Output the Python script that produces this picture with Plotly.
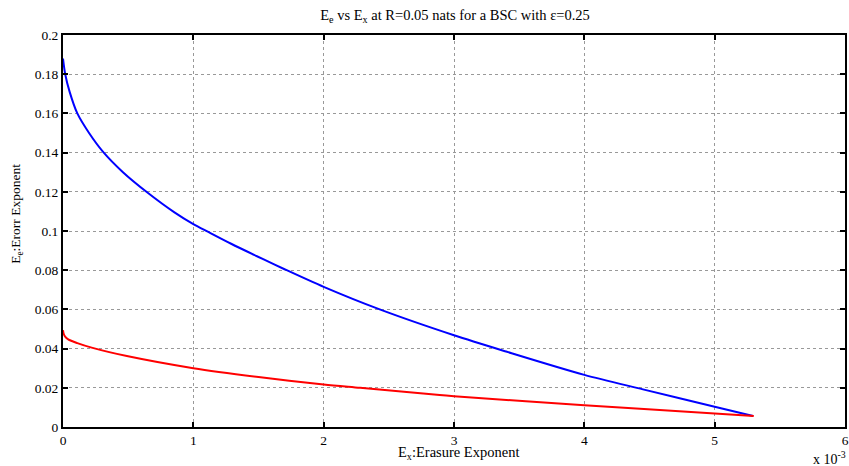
import plotly.graph_objects as go

# Erasure exponent in units of 1e-3
blue_ex = [0, 0.017, 0.051, 0.11, 0.2, 0.306, 0.46, 0.65, 0.855, 1.0, 1.115, 1.29, 1.54, 1.70, 2.0, 2.43, 3.0, 3.40, 4.0, 4.45, 5.0, 5.295]
blue_ee = [0.188, 0.180, 0.171, 0.160, 0.150, 0.1405, 0.130, 0.1195, 0.1095, 0.1035, 0.0995, 0.0935, 0.0855, 0.0805, 0.0715, 0.0600, 0.0468, 0.0385, 0.0266, 0.0192, 0.0103, 0.0056]

red_ex = [0, 0.004, 0.015, 0.04, 0.11, 0.22, 0.49, 1.0, 1.5, 2.0, 2.28, 2.89, 3.0, 4.0, 5.0, 5.30]
red_ee = [0.0494, 0.0478, 0.0462, 0.0447, 0.0428, 0.0405, 0.0362, 0.0300, 0.0255, 0.0217, 0.0200, 0.0163, 0.0157, 0.0111, 0.0069, 0.0056]

x_ticks = [0, 1, 2, 3, 4, 5, 6]
x_labels = ["0", "1", "2", "3", "4", "5", "6"]
y_ticks = [0, 0.02, 0.04, 0.06, 0.08, 0.1, 0.12, 0.14, 0.16, 0.18, 0.2]
y_labels = ["0", "0.02", "0.04", "0.06", "0.08", "0.1", "0.12", "0.14", "0.16", "0.18", "0.2"]

font = "Liberation Serif"

fig = go.Figure()
fig.add_trace(go.Scatter(x=blue_ex, y=blue_ee, mode="lines",
                         line=dict(color="#0000ff", width=2, shape="spline", smoothing=0.8)))
fig.add_trace(go.Scatter(x=red_ex, y=red_ee, mode="lines",
                         line=dict(color="#ff0000", width=2, shape="spline", smoothing=0.8)))

axis_common = dict(
    showline=True, linecolor="black", linewidth=2, mirror="ticks",
    ticks="inside", ticklen=5, tickwidth=1.5, tickcolor="black",
    showgrid=True, gridcolor="#999999", griddash="dot", gridwidth=1,
    zeroline=False, automargin=False,
    tickfont=dict(family=font, size=13.5, color="black"),
)

fig.update_layout(
    width=849, height=466,
    margin=dict(l=63, r=4, t=35, b=39),
    paper_bgcolor="white", plot_bgcolor="white",
    showlegend=False,
    title=dict(text="E<sub>e</sub> vs E<sub>x</sub> at R=0.05 nats for a BSC with ε=0.25",
               x=0.536, xanchor="center", y=0.978, yanchor="top",
               font=dict(family=font, size=14.5, color="black")),
    xaxis=dict(range=[0, 6], tickvals=x_ticks, ticktext=x_labels, **axis_common),
    yaxis=dict(range=[0, 0.2], tickvals=y_ticks, ticktext=y_labels, **axis_common),
)

fig.add_annotation(text="E<sub>x</sub>:Erasure Exponent", xref="paper", yref="paper",
                   x=0.506, y=-0.038, xanchor="center", yanchor="top", showarrow=False,
                   font=dict(family=font, size=14.5, color="black"))
fig.add_annotation(text="E<sub>e</sub>:Erorr Exponent", xref="paper", yref="paper",
                   x=-0.0595, y=0.545, xanchor="center", yanchor="middle", showarrow=False,
                   textangle=-90, font=dict(family=font, size=13.5, color="black"))
fig.add_annotation(text="x 10<sup>-3</sup>", xref="paper", yref="paper",
                   x=1.004, y=-0.052, xanchor="right", yanchor="top", showarrow=False,
                   font=dict(family=font, size=14, color="black"))

fig.write_html("out.html", config={"displayModeBar": False},
               post_script="document.body.style.margin='0';document.body.style.padding='0';"
                           "document.body.style.overflow='hidden';")
